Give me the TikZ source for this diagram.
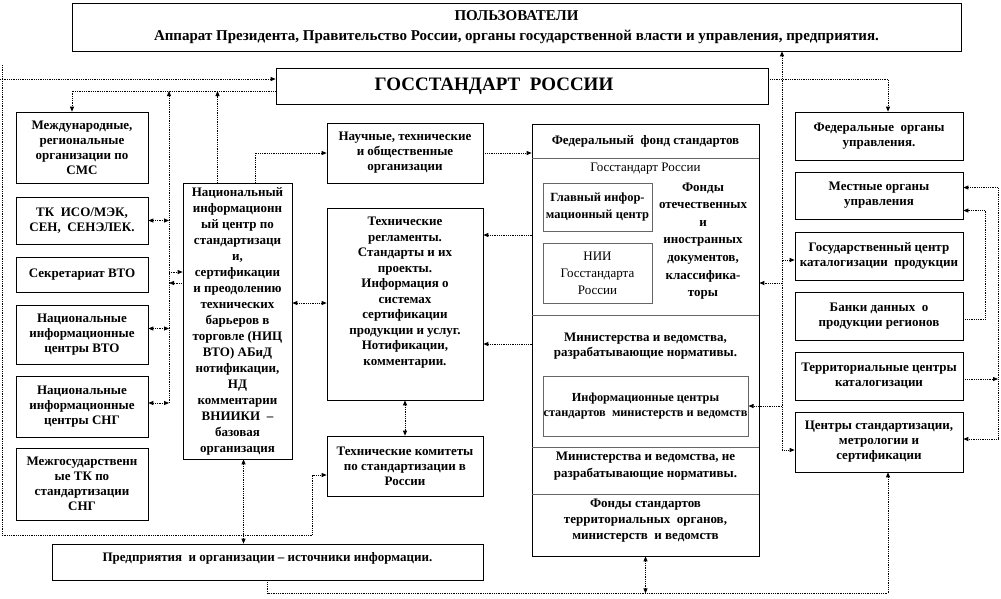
\documentclass[tikz,border=0pt]{standalone}
\usepackage{fontspec}
\setmainfont{Liberation Serif}
\usetikzlibrary{arrows.meta,calc}

\begin{document}
\begin{tikzpicture}[x=1pt,y=-1pt]
  \tikzset{blk/.style={draw,line width=0.7pt,align=center,inner sep=1pt,
      font=\fontsize{13}{15}\selectfont\bfseries},
    inbox/.style={draw=black!60,line width=1pt,align=center,inner sep=0pt,
      font=\fontsize{13}{17.5}\selectfont\bfseries},
    lbl/.style={align=center,inner sep=0pt,font=\fontsize{13}{17}\selectfont\bfseries},
    link/.style={densely dotted,line width=0.8pt,>={Triangle[length=5pt,width=4pt]}}}
  \useasboundingbox (0,0) rectangle (1001,598);

  % top
  \node[blk,minimum width=889pt,minimum height=48pt,font=\fontsize{15}{20}\selectfont\bfseries] (users) at (516.5,27)
    {ПОЛЬЗОВАТЕЛИ\\Аппарат Президента, Правительство России, органы государственной власти и управления, предприятия.};
  \node[blk,minimum width=492pt,minimum height=36pt,font=\fontsize{19}{20}\selectfont\bfseries] (goss) at (522,86)
    {ГОССТАНДАРТ\ \ РОССИИ\hspace*{56pt}};

  % left column
  \node[blk,minimum width=132pt,minimum height=71pt] (mezhd) at (82,147.5)
    {Международные,\\региональные\\организации по\\СМС};
  \node[blk,minimum width=132pt,minimum height=47pt] (tkiso) at (82,220.5)
    {ТК\ \ ИСО/МЭК,\\СЕН,\ \ СЕНЭЛЕК.};
  \node[blk,minimum width=132pt,minimum height=35pt] (sekr) at (82,274.5)
    {Секретариат ВТО};
  \node[blk,minimum width=132pt,minimum height=59pt] (nicwto) at (82,334.5)
    {Национальные\\информационные\\центры ВТО};
  \node[blk,minimum width=132pt,minimum height=61pt] (nicsng) at (82,406.5)
    {Национальные\\информационные\\центры СНГ};
  \node[blk,minimum width=132pt,minimum height=72pt] (mgtk) at (82,484)
    {Межгосударственн\\ые ТК по\\стандартизации\\СНГ};

  % centre
  \node[blk,minimum width=109pt,minimum height=276pt,font=\fontsize{13}{16}\selectfont\bfseries] (nic) at (237.5,321)
    {Национальный\\информационн\\ый центр по\\стандартизаци\\и,\\сертификации\\и преодолению\\технических\\барьеров в\\торговле (НИЦ\\ВТО) АБиД\\нотификации,\\НД\\комментарии\\ВНИИКИ\ \ –\\базовая\\организация};
  \node[blk,minimum width=156pt,minimum height=60pt] (nauch) at (405,153)
    {Научные, технические\\и общественные\\организации};
  \node[blk,minimum width=156pt,minimum height=192pt,font=\fontsize{13}{15.5}\selectfont\bfseries] (treg) at (405,304)
    {Технические\\регламенты.\\Стандарты и их\\проекты.\\Информация о\\системах\\сертификации\\продукции и услуг.\\Нотификации,\\комментарии.\\[10pt]};
  \node[blk,minimum width=156pt,minimum height=60pt] (tkros) at (405,466)
    {Технические комитеты\\по стандартизации в\\России};
  \node[blk,minimum width=431pt,minimum height=36pt] (pred) at (267.5,562)
    {Предприятия\ \ и организации – источники информации.\\[-4pt]};

  % federal fund
  \node[blk,minimum width=227pt,minimum height=432pt] (fund) at (645.5,340) {};
  \foreach \dy in {35,192,324,371}
    \draw[black!60,line width=0.8pt] ($(fund.north west)+(0,\dy)$) -- ($(fund.north east)+(0,\dy)$);
  \node[lbl] (ffs) at (645.5,141) {Федеральный\ \ фонд стандартов};
  \node[lbl,font=\fontsize{13}{17}\selectfont] (gsr) at (645.5,169) {Госстандарт России};
  \node[inbox,minimum width=109pt,minimum height=48pt,font=\fontsize{12.5}{17.5}\selectfont\bfseries] (glav) at (597.5,207)
    {Главный инфор-\\мационный центр};
  \node[inbox,minimum width=109pt,minimum height=60pt,font=\fontsize{13}{17}\selectfont] (nii) at (597.5,273)
    {НИИ\\Госстандарта\\России};
  \node[lbl,font=\fontsize{13}{17.6}\selectfont\bfseries] (fondy) at (703,241)
    {Фонды\\отечественных\\и\\иностранных\\документов,\\классифика-\\торы};
  \node[lbl,font=\fontsize{13}{15}\selectfont\bfseries] (minr) at (645.5,346)
    {Министерства и ведомства,\\разрабатывающие нормативы.};
  \node[inbox,minimum width=205pt,minimum height=60pt,font=\fontsize{12.3}{15}\selectfont\bfseries] (infc) at (645.5,406)
    {Информационные центры\\стандартов\ \ министерств и ведомств};
  \node[lbl] (minn) at (645.5,466.5)
    {Министерства и ведомства, не\\разрабатывающие нормативы.};
  \node[lbl,font=\fontsize{13}{16}\selectfont\bfseries] (fter) at (645.5,521)
    {Фонды стандартов\\территориальных\ \ органов,\\министерств\ \ и ведомств};

  % right column
  \node[blk,minimum width=168pt,minimum height=48pt] (feder) at (879,136)
    {Федеральные\ \ органы\\управления.};
  \node[blk,minimum width=168pt,minimum height=47pt] (mest) at (879,195.5)
    {Местные органы\\управления};
  \node[blk,minimum width=168pt,minimum height=48pt] (gcat) at (879,256)
    {Государственный центр\\каталогизации\ \ продукции};
  \node[blk,minimum width=168pt,minimum height=48pt] (banks) at (879,316)
    {Банки данных\ \ о\\продукции регионов};
  \node[blk,minimum width=168pt,minimum height=48pt] (terr) at (879,376)
    {Территориальные центры\\каталогизации};
  \node[blk,minimum width=168pt,minimum height=60pt] (centr) at (879,442)
    {Центры стандартизации,\\метрологии и\\сертификации};

  % left loop
  \coordinate (ltop) at (2,65);
  \coordinate (lbot) at (2,535);
  \coordinate (lmid) at (0,79);
  \draw[link,->] (ltop) -- (lbot) -| ($(tkros.west)+(-14,9)$) -- ($(tkros.west)+(0,9)$);
  \draw[link,->] (lmid) -- (lmid -| goss.west);
  \draw[link,->] ($(goss.west)+(0,5)$) -| ($(mezhd.north)+(-10,0)$);

  % bus between left column and NIC
  \coordinate (bustop) at (169,91);
  \coordinate (busbot) at (169,403);
  \draw[link,->] (busbot) -- (bustop);
  \draw[link,<->] (tkiso.east) -- (tkiso.east -| bustop);
  \coordinate (k3) at ($(nicwto.east)+(0,-6)$);
  \draw[link,<->] (k3) -- (k3 -| bustop);
  \draw[link,<->] (nicsng.east |- busbot) -- (busbot);
  \coordinate (k1) at ($(bustop)+(0,181)$);
  \coordinate (k2) at ($(bustop)+(0,192)$);
  \draw[link,->] (k1) -- (k1 -| nic.west);
  \draw[link,<-] (k2) -- (k2 -| nic.west);

  % NIC links
  \coordinate (k4) at ($(nic.north)+(-20,0)$);
  \draw[link,->] (k4) -- (k4 |- bustop);
  \draw[link,->] ($(nic.north)+(18,0)$) |- (nauch.west);
  \coordinate (k5) at ($(nic.east)+(0,-18)$);
  \draw[link,<->] (k5) -- (k5 -| treg.west);
  \coordinate (k6) at ($(nic.south)+(6,0)$);
  \draw[link,<->] (k6) -- (k6 |- pred.north);

  % centre links
  \draw[link,->] (nauch.east) -- (nauch.east -| fund.west);
  \coordinate (k7) at ($(treg.east)+(0,-69)$);
  \coordinate (k8) at ($(treg.east)+(0,40)$);
  \draw[link,<-] (k7) -- (k7 -| fund.west);
  \draw[link,<-] (k8) -- (k8 -| fund.west);
  \draw[link,<->] (treg.south) -- (tkros.north);

  % bottom line
  \coordinate (pbot) at ($(pred.south)+(0,13)$);
  \draw[link,->] (pred.south) -- (pbot) -| ($(centr.south)+(9,0)$);
  \draw[link,<->] (fund.south) -- (fund.south |- pbot);

  % right side
  \draw[link,->] ($(goss.east)+(0,-7)$) -| ($(feder.north)+(9,0)$);
  \coordinate (rbus) at (782,450);
  \draw[link,<->] (users.south -| rbus) -- (rbus) -- (rbus -| centr.west);
  \coordinate (k12) at ($(gcat.west)+(-13,4)$);
  \draw[link,->] (k12) -- (k12 -| gcat.west);
  \coordinate (k9) at ($(gcat.west)+(-13,27)$);
  \draw[link,->] (k9) -- (k9 -| fund.east);
  \coordinate (k10) at (rbus |- infc.east);
  \draw[link,->] (k10) -- (infc.east);

  \coordinate (rloop) at (998,300);
  \draw[link,<->] ($(mest.east)+(0,-8)$) -| (rloop) |- ($(centr.east)+(0,-3)$);
  \draw[link,->] ($(banks.east)+(0,3)$) -- ++(22,0) |- ($(mest.east)+(0,15)$);
  \coordinate (k11) at ($(terr.east)+(0,3)$);
  \draw[link,->] (k11) -- (k11 -| rloop);
\end{tikzpicture}
\end{document}
